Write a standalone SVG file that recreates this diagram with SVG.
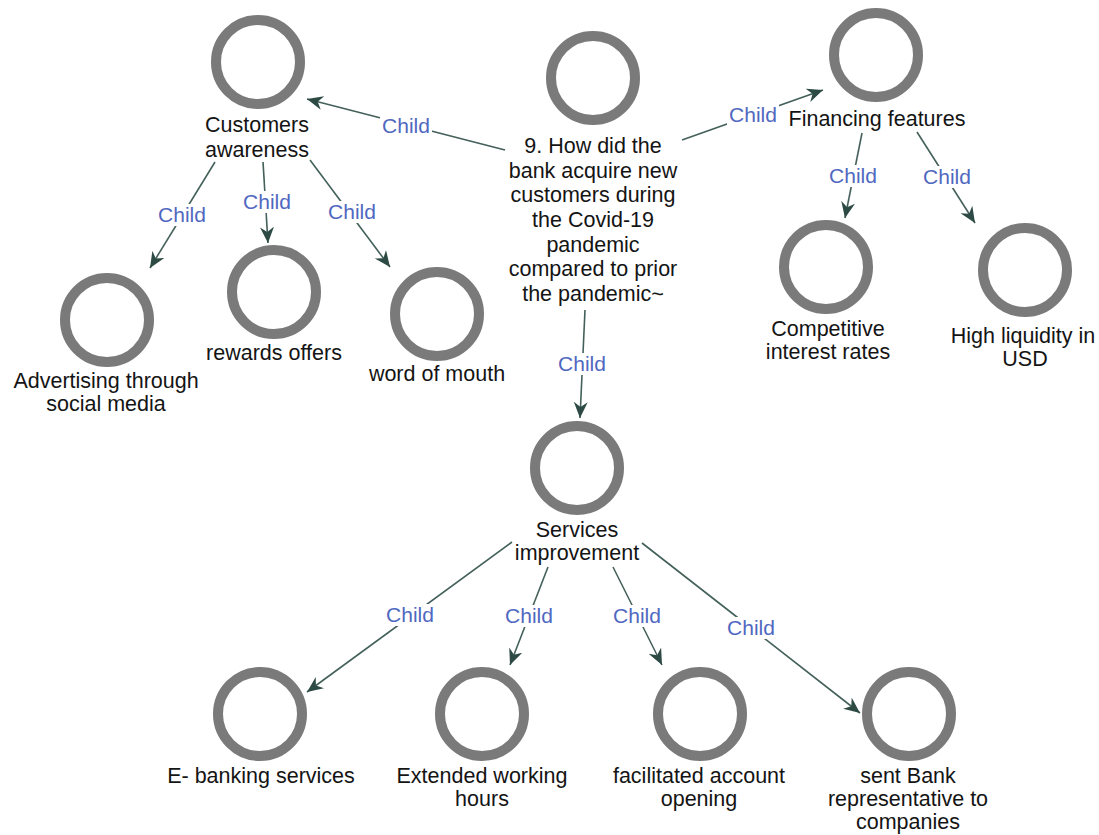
<svg xmlns="http://www.w3.org/2000/svg" width="1099" height="835" viewBox="0 0 1099 835">
  <style>
    .ring { fill: #ffffff; stroke: #7a7a7a; stroke-width: 10; }
    .lbl { font-family: "Liberation Sans", Arial, sans-serif; font-size: 21.5px; fill: #141414; text-anchor: middle; }
    .edge { stroke: #44605a; stroke-width: 1.6; fill: none; marker-end: url(#arrow); }
    .tagbg { fill: #ffffff; }
    .tag { font-family: "Liberation Sans", Arial, sans-serif; font-size: 21px; fill: #5068c0; text-anchor: middle; }
  </style>
  <defs>
    <marker id="arrow" markerUnits="userSpaceOnUse" markerWidth="18" markerHeight="16" refX="16" refY="7" orient="auto">
      <path d="M0,0 L16,7 L0,14 L5,7 Z" fill="#2e4a44"/>
    </marker>
  </defs>
  <rect width="1099" height="835" fill="#ffffff"/>

  <!-- connectors, each labelled "Child" at its midpoint -->
  <g id="connectors">
    <line class="edge" x1="505" y1="150" x2="307" y2="99"/>
    <line class="edge" x1="682" y1="140" x2="823" y2="90"/>
    <line class="edge" x1="862" y1="133" x2="845" y2="218"/>
    <line class="edge" x1="917" y1="132" x2="975" y2="223"/>
    <line class="edge" x1="215" y1="162" x2="150" y2="268"/>
    <line class="edge" x1="263" y1="162" x2="268" y2="243"/>
    <line class="edge" x1="310" y1="160" x2="390" y2="267"/>
    <line class="edge" x1="585" y1="310" x2="580" y2="418"/>
    <line class="edge" x1="512" y1="542" x2="307" y2="692"/>
    <line class="edge" x1="548" y1="567" x2="510" y2="665"/>
    <line class="edge" x1="613" y1="567" x2="662" y2="665"/>
    <line class="edge" x1="642" y1="543" x2="860" y2="713"/>

    <rect class="tagbg" x="380" y="115" width="52" height="22"/>
    <text class="tag" x="406" y="133">Child</text>
    <rect class="tagbg" x="727" y="104" width="52" height="22"/>
    <text class="tag" x="753" y="122">Child</text>
    <rect class="tagbg" x="827" y="165" width="52" height="22"/>
    <text class="tag" x="853" y="183">Child</text>
    <rect class="tagbg" x="921" y="166" width="52" height="22"/>
    <text class="tag" x="947" y="184">Child</text>
    <rect class="tagbg" x="156" y="204" width="52" height="22"/>
    <text class="tag" x="182" y="222">Child</text>
    <rect class="tagbg" x="241" y="191" width="52" height="22"/>
    <text class="tag" x="267" y="209">Child</text>
    <rect class="tagbg" x="326" y="201" width="52" height="22"/>
    <text class="tag" x="352" y="219">Child</text>
    <rect class="tagbg" x="556" y="353" width="52" height="22"/>
    <text class="tag" x="582" y="371">Child</text>
    <rect class="tagbg" x="384" y="604" width="52" height="22"/>
    <text class="tag" x="410" y="622">Child</text>
    <rect class="tagbg" x="503" y="605" width="52" height="22"/>
    <text class="tag" x="529" y="623">Child</text>
    <rect class="tagbg" x="611" y="605" width="52" height="22"/>
    <text class="tag" x="637" y="623">Child</text>
    <rect class="tagbg" x="725" y="617" width="52" height="22"/>
    <text class="tag" x="751" y="635">Child</text>
  </g>

  <g id="root">
    <circle class="ring" cx="593" cy="78" r="42"/>
    <text class="lbl" x="593" y="153">9. How did the</text>
    <text class="lbl" x="593" y="178">bank acquire new</text>
    <text class="lbl" x="593" y="202">customers during</text>
    <text class="lbl" x="593" y="227">the Covid-19</text>
    <text class="lbl" x="593" y="252">pandemic</text>
    <text class="lbl" x="593" y="276">compared to prior</text>
    <text class="lbl" x="593" y="301">the pandemic~</text>
  </g>

  <g id="customers-awareness">
    <circle class="ring" cx="258" cy="62" r="42"/>
    <text class="lbl" x="257" y="132">Customers</text>
    <text class="lbl" x="257" y="157">awareness</text>
  </g>

  <g id="financing-features">
    <circle class="ring" cx="876" cy="55" r="42"/>
    <text class="lbl" x="877" y="126">Financing features</text>
  </g>

  <g id="competitive-rates">
    <circle class="ring" cx="826" cy="267" r="42"/>
    <text class="lbl" x="828" y="336">Competitive</text>
    <text class="lbl" x="828" y="359">interest rates</text>
  </g>

  <g id="high-liquidity">
    <circle class="ring" cx="1025" cy="270" r="42"/>
    <text class="lbl" x="1023" y="343">High liquidity in</text>
    <text class="lbl" x="1025" y="366">USD</text>
  </g>

  <g id="advertising">
    <circle class="ring" cx="107" cy="320" r="42"/>
    <text class="lbl" x="106" y="388">Advertising through</text>
    <text class="lbl" x="106" y="411">social media</text>
  </g>

  <g id="rewards-offers">
    <circle class="ring" cx="274" cy="292" r="42"/>
    <text class="lbl" x="274" y="360">rewards offers</text>
  </g>

  <g id="word-of-mouth">
    <circle class="ring" cx="437" cy="314" r="42"/>
    <text class="lbl" x="437" y="381">word of mouth</text>
  </g>

  <g id="services-improvement">
    <circle class="ring" cx="577" cy="468" r="42"/>
    <text class="lbl" x="577" y="537">Services</text>
    <text class="lbl" x="577" y="560">improvement</text>
  </g>

  <g id="e-banking">
    <circle class="ring" cx="260" cy="714" r="42"/>
    <text class="lbl" x="261" y="783">E- banking services</text>
  </g>

  <g id="extended-hours">
    <circle class="ring" cx="482" cy="714" r="42"/>
    <text class="lbl" x="482" y="783">Extended working</text>
    <text class="lbl" x="482" y="806">hours</text>
  </g>

  <g id="account-opening">
    <circle class="ring" cx="700" cy="714" r="42"/>
    <text class="lbl" x="699" y="783">facilitated account</text>
    <text class="lbl" x="699" y="806">opening</text>
  </g>

  <g id="bank-representative">
    <circle class="ring" cx="909" cy="714" r="42"/>
    <text class="lbl" x="908" y="783">sent Bank</text>
    <text class="lbl" x="908" y="806">representative to</text>
    <text class="lbl" x="908" y="829">companies</text>
  </g>
</svg>
